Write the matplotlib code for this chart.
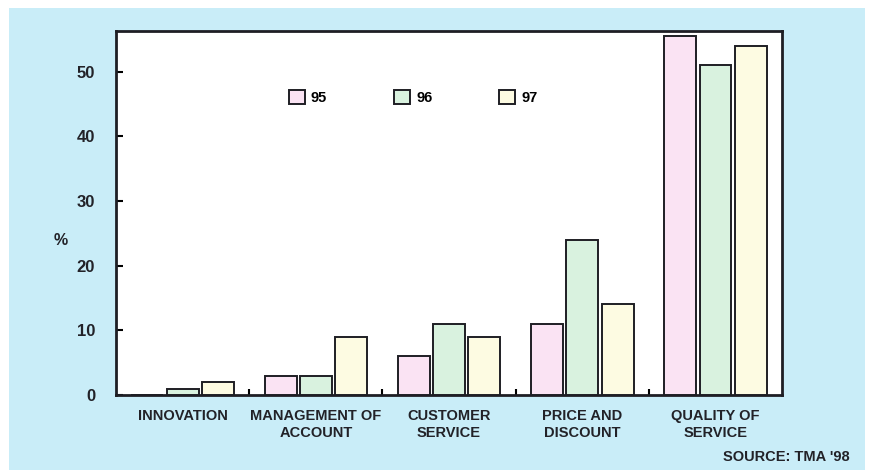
import matplotlib.pyplot as plt
import matplotlib.patches as mpatches
import numpy as np

plt.rcParams['font.family'] = ['Liberation Sans', 'DejaVu Sans']

# Données
categories = ['INNOVATION', 'MANAGEMENT OF\nACCOUNT', 'CUSTOMER\nSERVICE',
              'PRICE AND\nDISCOUNT', 'QUALITY OF\nSERVICE']
annees = ['95', '96', '97']
val_95 = [0, 3, 6, 11, 55.5]
val_96 = [1, 3, 11, 24, 51]
val_97 = [2, 9, 9, 14, 54]
couleurs = ['#fae3f3', '#d9f2df', '#fdfbe2']

fig = plt.figure(figsize=(8.69, 4.70), dpi=100)
fig.patch.set_facecolor('white')
# fond bleu clair
fig.patches.append(mpatches.Rectangle((0.010, 0.0), 0.985, 0.983, transform=fig.transFigure,
                                      facecolor='#c9edf8', edgecolor='none', zorder=-10))

ax = fig.add_axes([0.1335, 0.1596, 0.7665, 0.7744])
ax.set_facecolor('white')

x = np.arange(len(categories))
largeur = 0.24
pas = 0.265
for i, (vals, lab) in enumerate(zip([val_95, val_96, val_97], annees)):
    ax.bar(x + (i - 1) * pas, vals, largeur, color=couleurs[i], edgecolor='#1e1e24',
           linewidth=1.4, label=lab, zorder=3)

ax.set_xlim(-0.5, 4.5)
ax.set_ylim(0, 56.3)
ax.set_yticks([0, 10, 20, 30, 40, 50])
ax.tick_params(axis='y', direction='in', length=5, width=1.5, labelsize=12, pad=15)
for t in ax.get_yticklabels():
    t.set_fontweight('bold')
    t.set_color('#222228')

ax.set_xticks(x)
ax.set_xticklabels(categories, fontsize=10.5, fontweight='bold', color='#222228',
                   linespacing=1.3)
ax.tick_params(axis='x', length=0, pad=10)
ax.set_xticks(x[:-1] + 0.5, minor=True)
ax.tick_params(axis='x', which='minor', direction='in', length=4, width=1.5)

for s in ax.spines.values():
    s.set_linewidth(2)
    s.set_color('#1e1e24')

ax.set_ylabel('%', rotation=0, fontsize=11.5, fontweight='bold', color='#222228')
ax.yaxis.set_label_coords(-0.083, 0.405)

leg = ax.legend(ncol=3, loc='upper left', bbox_to_anchor=(0.24, 0.875), frameon=False,
                columnspacing=4.6, handlelength=1.1, handleheight=1.1, handletextpad=0.4,
                fontsize=10.5)
for t in leg.get_texts():
    t.set_fontweight('bold')

fig.text(0.978, 0.012, "SOURCE: TMA '98", ha='right', va='bottom', fontsize=10.5,
         fontweight='bold', color='#222228')

plt.savefig('out.png', dpi=100, facecolor=fig.get_facecolor())
